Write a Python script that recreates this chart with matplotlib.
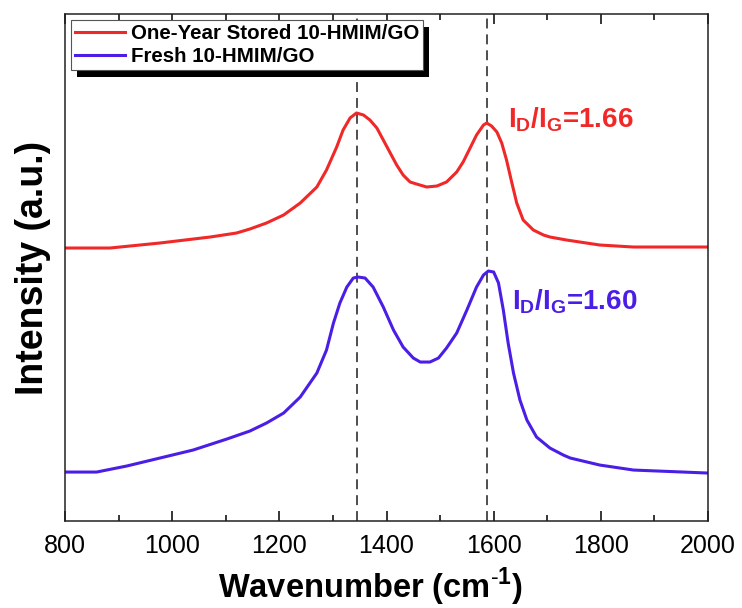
import matplotlib
matplotlib.use("Agg")
import matplotlib.pyplot as plt
import matplotlib.patheffects as pe
from matplotlib.ticker import MultipleLocator

plt.rcParams["font.family"] = ["Liberation Sans", "DejaVu Sans"]
plt.rcParams["mathtext.fontset"] = "custom"
plt.rcParams["mathtext.rm"] = "Liberation Sans"
plt.rcParams["mathtext.bf"] = "Liberation Sans:bold"

# Raman spectra (arbitrary units, offset stacked)
stored_wn = [800, 884, 977, 1071, 1120, 1145, 1176, 1208, 1239, 1270, 1288,
             1307, 1319, 1332, 1344, 1357, 1369, 1382, 1394, 1407, 1419, 1431,
             1444, 1456, 1475, 1494, 1512, 1531, 1543, 1556, 1568, 1581, 1587,
             1596, 1606, 1615, 1624, 1634, 1643, 1655, 1674, 1693, 1705, 1736,
             1798, 1861, 2000]
stored_int = [292, 292, 297, 303, 307, 311, 317, 325, 337, 353, 370,
              393, 410, 422, 427, 425, 420, 412, 400, 387, 375, 365,
              358, 356, 353, 354, 358, 368, 378, 392, 405, 415, 417,
              414, 408, 397, 380, 357, 337, 320, 310, 305, 303, 300,
              295, 293, 293]

fresh_wn = [800, 859, 915, 977, 1039, 1102, 1145, 1176, 1208, 1239, 1270, 1288,
            1301, 1313, 1326, 1338, 1347, 1360, 1375, 1394, 1413, 1431, 1450,
            1463, 1481, 1497, 1512, 1531, 1550, 1568, 1581, 1590, 1600, 1609,
            1618, 1627, 1637, 1649, 1662, 1680, 1705, 1730, 1743, 1798, 1861,
            2000]
fresh_int = [68, 68, 74, 82, 90, 101, 109, 117, 127, 143, 167, 190,
             217, 237, 253, 262, 263, 262, 253, 233, 210, 193, 182,
             178, 178, 182, 192, 207, 230, 253, 265, 269, 268, 257,
             230, 197, 167, 140, 120, 103, 92, 85, 82, 75, 70,
             67]

peak_lines = [1345, 1587]
ratio_labels = ["1.66", "1.60"]

red = "#F02828"
blue = "#4B1EE6"

fig = plt.figure(figsize=(7.42, 6.08), dpi=100)
ax = fig.add_axes([0.0876, 0.143, 0.8666, 0.834])

ax.plot(stored_wn, stored_int, color=red, lw=2.2, label="One-Year Stored 10-HMIM/GO")
ax.plot(fresh_wn, fresh_int, color=blue, lw=2.2, label="Fresh 10-HMIM/GO")
for xv in peak_lines:
    ax.axvline(xv, color="#404040", lw=1.3, ls=(0, (5.5, 3.3)), zorder=1)

ax.text(1627, 413, r"$\mathbf{I_D/I_G}$=" + ratio_labels[0], color=red,
        fontsize=20, fontweight="bold", va="baseline")
ax.text(1634, 231, r"$\mathbf{I_D/I_G}$=" + ratio_labels[1], color=blue,
        fontsize=20, fontweight="bold", va="baseline")

ax.set_xlim(800, 2000)
ax.set_ylim(19, 526)
ax.xaxis.set_major_locator(MultipleLocator(200))
ax.xaxis.set_minor_locator(MultipleLocator(100))
ax.tick_params(axis="x", which="both", direction="in", top=True, width=1.1,
               labelsize=18, pad=9)
ax.tick_params(axis="x", which="major", length=7)
ax.tick_params(axis="x", which="minor", length=4.5)
ax.set_yticks([])
for s in ax.spines.values():
    s.set_linewidth(1.1)
    s.set_color("#222222")

ax.set_xlabel(r"Wavenumber (cm$^{\text{-}\mathbf{1}}$)", fontsize=23.5,
              fontweight="bold")
ax.xaxis.set_label_coords(0.475, -0.088)
ax.set_ylabel("Intensity (a.u.)", fontsize=27, fontweight="bold", labelpad=10)

leg = ax.legend(loc="upper left", prop={"weight": "bold", "size": 14.8},
                fancybox=False, edgecolor="#555555", framealpha=1,
                handlelength=2.4, handletextpad=0.3, labelspacing=0.2,
                borderpad=0.2, borderaxespad=0.3)
leg.get_frame().set_linewidth(0.8)
leg.get_frame().set_path_effects([
    pe.SimplePatchShadow(offset=(4.5, -5), shadow_rgbFace="black", alpha=1),
    pe.Normal()])

fig.savefig("out.png", dpi=100)
